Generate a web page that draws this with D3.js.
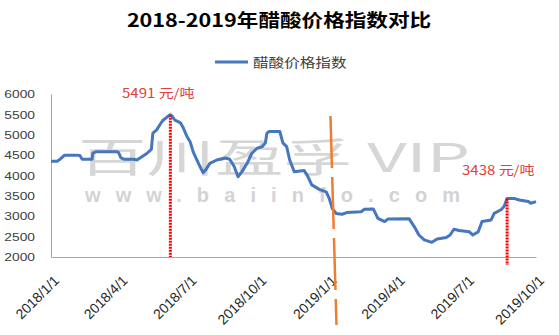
<!DOCTYPE html>
<html>
<head>
<meta charset="utf-8">
<script src="https://cdn.jsdelivr.net/npm/d3@7"></script>
<style>
  body { margin: 0; background: #fff; }
  svg { display: block; }
</style>
</head>
<body>
<div id="chart"></div>
<script>
// acetic acid price index
var dates = ["2018-01-01","2018-01-09","2018-01-13","2018-01-19","2018-02-03","2018-02-08","2018-02-11","2018-02-24",
    "2018-02-25","2018-03-01","2018-03-29","2018-03-31","2018-04-03","2018-04-07","2018-04-20","2018-04-24",
    "2018-04-28","2018-05-07","2018-05-13","2018-05-15","2018-05-20","2018-05-24","2018-05-28","2018-06-03",
    "2018-06-07","2018-06-09","2018-06-13","2018-06-20","2018-06-24","2018-06-29","2018-07-03","2018-07-07",
    "2018-07-12","2018-07-16","2018-07-20","2018-07-24","2018-07-29","2018-08-07","2018-08-18","2018-08-24",
    "2018-08-30","2018-09-04","2018-09-09","2018-09-16","2018-09-22","2018-09-29","2018-10-06","2018-10-10",
    "2018-10-12","2018-10-15","2018-10-29","2018-11-02","2018-11-07","2018-11-11","2018-11-17","2018-11-30",
    "2018-12-04","2018-12-10","2018-12-20","2018-12-29","2019-01-02","2019-01-06","2019-01-11","2019-01-19",
    "2019-01-25","2019-02-13","2019-02-17","2019-03-01","2019-03-07","2019-03-16","2019-03-20","2019-04-17",
    "2019-04-24","2019-04-30","2019-05-07","2019-05-17","2019-05-24","2019-06-05","2019-06-10","2019-06-15",
    "2019-06-22","2019-07-05","2019-07-10","2019-07-17","2019-07-22","2019-08-03","2019-08-07","2019-08-16",
    "2019-08-20","2019-08-24","2019-09-02","2019-09-09","2019-09-21","2019-09-24","2019-10-01"];
var values = [4350,4350,4400,4500,4500,4490,4400,4400,
    4550,4580,4580,4560,4430,4400,4400,4380,
    4430,4540,4640,5040,5120,5240,5350,5440,
    5491,5460,5360,5300,5170,4950,4830,4580,
    4380,4220,4070,4150,4300,4380,4430,4400,
    4220,3970,4090,4300,4540,4670,4710,4800,
    5040,5080,5080,4800,4710,4380,4090,4120,
    4010,3770,3660,3600,3440,3190,3070,3050,
    3090,3110,3170,3180,2950,2870,2930,2940,
    2740,2540,2420,2360,2440,2480,2540,2680,
    2650,2620,2540,2620,2870,2910,3070,3160,
    3240,3438,3438,3400,3360,3320,3360];

var yTicks = [2000,2500,3000,3500,4000,4500,5000,5500,6000];
var xTicks = ["2018-01-01","2018-04-01","2018-07-01","2018-10-01","2019-01-01","2019-04-01","2019-07-01","2019-10-01"];

// the two marked points and the year split
var noteDates = ["2018-06-07","2019-08-24"];
var noteValues = [5491,3438];
var splitDate = "2019-01-01";

var title = "2018-2019年醋酸价格指数对比";
var seriesName = "醋酸价格指数";

var w = 559;
var h = 335;
var sx = 1.2; // the picture is a bit stretched sideways
var cjk = "'Noto Sans CJK SC', 'Liberation Sans', sans-serif";
var latin = "'Liberation Sans', Arial, sans-serif";

var parse = d3.timeParse("%Y-%m-%d");
var data = dates.map(function (d, i) {
    return {date: parse(d), value: values[i]};
});

var xScale = d3.scaleTime()
    .domain([parse("2018-01-01"), parse("2019-10-01")])
    .range([51, 536]);
var yScale = d3.scaleLinear().domain([2000, 6000]).range([257, 94]);

var svg = d3.select("#chart").append("svg").attr("width", w).attr("height", h);

// title
svg.append("g")
    .attr("transform", "translate(279,27) scale(" + sx + ",1)")
    .append("text")
    .attr("text-anchor", "middle")
    .attr("font-family", cjk)
    .attr("font-weight", "bold")
    .attr("font-size", "18px")
    .attr("fill", "#000")
    .text(title);

// legend
svg.append("line")
    .attr("x1", 215).attr("x2", 248)
    .attr("y1", 62).attr("y2", 62)
    .attr("stroke", "#4676bd")
    .attr("stroke-width", 3);
svg.append("g")
    .attr("transform", "translate(253,67) scale(" + sx + ",1)")
    .append("text")
    .attr("font-family", cjk)
    .attr("font-size", "13px")
    .attr("fill", "#404040")
    .text(seriesName);

// watermark
svg.append("text")
    .attr("x", 78).attr("y", 172)
    .attr("textLength", 392)
    .attr("lengthAdjust", "spacingAndGlyphs")
    .attr("font-family", cjk)
    .attr("font-size", "40px")
    .attr("fill", "#d6d6d6")
    .text("百川盈孚 VIP");
svg.append("text")
    .attr("x", 85).attr("y", 202)
    .attr("textLength", 375)
    .attr("lengthAdjust", "spacing")
    .attr("font-family", latin)
    .attr("font-weight", "bold")
    .attr("font-size", "20px")
    .attr("fill", "#d3d3d3")
    .text("www.baiinfo.com");

// y axis
var yAxis = d3.axisLeft(yScale).tickValues(yTicks).tickSize(0).tickFormat(d3.format("d"));
var gy = svg.append("g").attr("transform", "translate(51,0)").call(yAxis);
gy.select(".domain").attr("stroke", "#a6a6a6");
gy.selectAll("text")
    .attr("x", -16 / sx)
    .attr("transform", "scale(" + sx + ",1)")
    .attr("font-family", latin)
    .attr("font-size", "11.5px")
    .attr("fill", "#404040");

// x axis
var xAxis = d3.axisBottom(xScale)
    .tickValues(xTicks.map(parse))
    .tickSize(0)
    .tickFormat(d3.timeFormat("%Y/%-m/%-d"));
var gx = svg.append("g").attr("transform", "translate(0,257)").call(xAxis);
gx.select(".domain").attr("stroke", "#a6a6a6");
gx.selectAll("text")
    .attr("x", 0).attr("y", 0).attr("dy", "0.35em")
    .attr("text-anchor", "end")
    .attr("transform", "translate(5,21) rotate(-45)")
    .attr("font-family", latin)
    .attr("font-size", "14px")
    .attr("fill", "#262626");

// line
var line = d3.line()
    .x(function (d) { return xScale(d.date); })
    .y(function (d) { return yScale(d.value); });
svg.append("path")
    .datum(data)
    .attr("d", line)
    .attr("fill", "none")
    .attr("stroke", "#4676bd")
    .attr("stroke-width", 3)
    .attr("stroke-linejoin", "round");

// red dotted markers + labels
var noteEnds = [257, 265];
var noteLabelPos = [[122, 98], [462, 175]];
noteDates.forEach(function (d, i) {
    var px = xScale(parse(d));
    svg.append("line")
        .attr("x1", px).attr("x2", px)
        .attr("y1", yScale(noteValues[i])).attr("y2", noteEnds[i])
        .attr("stroke", "#ff0000")
        .attr("stroke-width", 3)
        .attr("stroke-dasharray", "2,1");
    svg.append("g")
        .attr("transform", "translate(" + noteLabelPos[i][0] + "," + noteLabelPos[i][1] + ") scale(" + sx + ",1)")
        .append("text")
        .attr("font-family", cjk)
        .attr("font-size", "12.5px")
        .attr("fill", "#e0403a")
        .text(noteValues[i] + " 元/吨");
});

// orange split line at the turn of the year
var sp = xScale(parse(splitDate));
svg.append("line")
    .attr("x1", sp + 2).attr("y1", 116)
    .attr("x2", sp + 8).attr("y2", 325)
    .attr("stroke", "#ed7d31")
    .attr("stroke-width", 2.5)
    .attr("stroke-dasharray", "52,9");
</script>
</body>
</html>
